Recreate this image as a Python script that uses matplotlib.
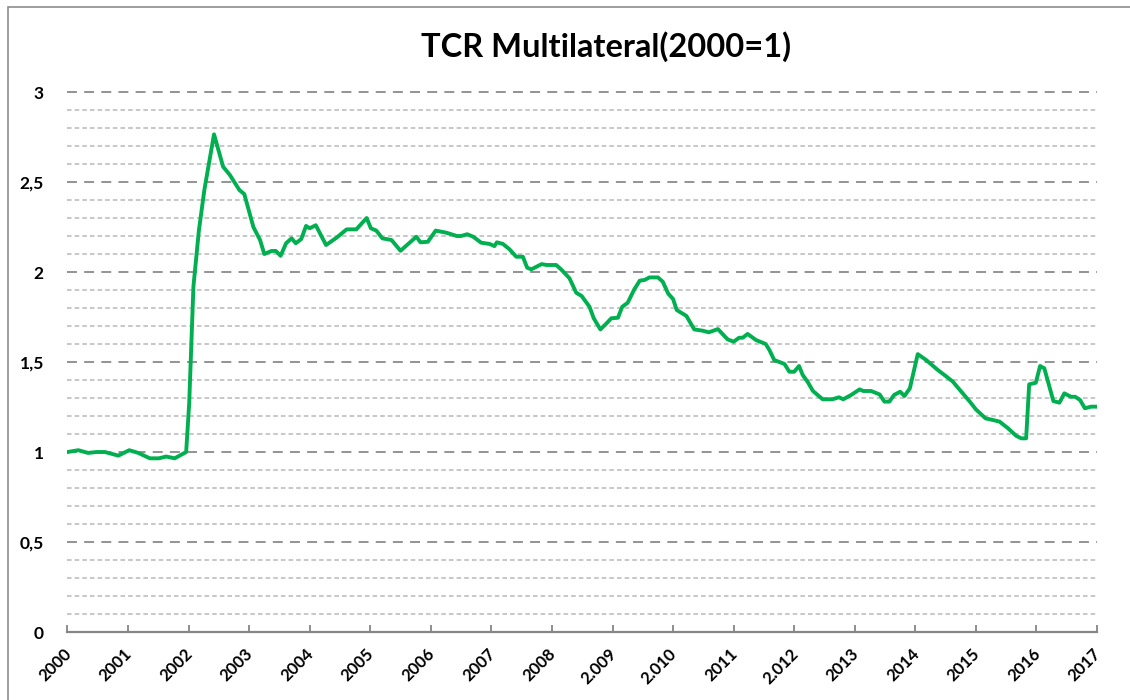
import matplotlib
matplotlib.use('Agg')
import matplotlib.pyplot as plt
import matplotlib.transforms as mtransforms
from matplotlib.patches import Rectangle
from matplotlib.ticker import MultipleLocator, FuncFormatter

# monthly-ish readings of the multilateral real exchange rate (2000=1)
years = [
    2000.00, 2000.18, 2000.34, 2000.48, 2000.62, 2000.84, 2001.02, 2001.17, 2001.36, 2001.51,
    2001.63, 2001.77, 2001.96, 2002.01, 2002.08, 2002.17, 2002.26, 2002.42, 2002.57, 2002.68,
    2002.84, 2002.92, 2003.07, 2003.18, 2003.25, 2003.37, 2003.44, 2003.52, 2003.61, 2003.70,
    2003.77, 2003.86, 2003.94, 2004.00, 2004.10, 2004.27, 2004.44, 2004.61, 2004.77, 2004.94,
    2005.01, 2005.10, 2005.20, 2005.35, 2005.50, 2005.76, 2005.83, 2005.95, 2006.08, 2006.26,
    2006.43, 2006.50, 2006.60, 2006.70, 2006.83, 2006.97, 2007.05, 2007.09, 2007.19, 2007.30,
    2007.41, 2007.52, 2007.59, 2007.66, 2007.83, 2007.91, 2008.07, 2008.15, 2008.29, 2008.40,
    2008.49, 2008.62, 2008.69, 2008.80, 2008.91, 2008.98, 2009.09, 2009.16, 2009.25, 2009.36,
    2009.45, 2009.53, 2009.61, 2009.75, 2009.83, 2009.92, 2010.00, 2010.06, 2010.22, 2010.35,
    2010.49, 2010.59, 2010.74, 2010.90, 2011.00, 2011.09, 2011.15, 2011.23, 2011.37, 2011.53,
    2011.59, 2011.67, 2011.84, 2011.92, 2012.00, 2012.08, 2012.14, 2012.22, 2012.31, 2012.47,
    2012.63, 2012.74, 2012.81, 2012.94, 2013.08, 2013.14, 2013.27, 2013.41, 2013.49, 2013.57,
    2013.65, 2013.75, 2013.82, 2013.91, 2014.04, 2014.18, 2014.37, 2014.48, 2014.62, 2014.76,
    2014.90, 2015.00, 2015.16, 2015.28, 2015.39, 2015.53, 2015.67, 2015.75, 2015.83, 2015.88,
    2015.99, 2016.06, 2016.13, 2016.28, 2016.38, 2016.46, 2016.57, 2016.64, 2016.72, 2016.80,
    2016.90, 2017.00,
]
tcr = [
    1.000, 1.010, 0.995, 1.000, 1.000, 0.980, 1.010, 0.995, 0.965, 0.965,
    0.975, 0.965, 1.000, 1.270, 1.920, 2.230, 2.455, 2.765, 2.585, 2.540,
    2.455, 2.433, 2.250, 2.178, 2.100, 2.117, 2.117, 2.090, 2.160, 2.187,
    2.160, 2.183, 2.256, 2.243, 2.260, 2.150, 2.190, 2.237, 2.237, 2.300,
    2.243, 2.230, 2.187, 2.178, 2.118, 2.196, 2.165, 2.168, 2.230, 2.218,
    2.200, 2.200, 2.210, 2.196, 2.163, 2.156, 2.144, 2.165, 2.156, 2.126,
    2.085, 2.085, 2.024, 2.015, 2.044, 2.039, 2.039, 2.015, 1.965, 1.885,
    1.867, 1.807, 1.743, 1.681, 1.718, 1.743, 1.746, 1.807, 1.829, 1.904,
    1.952, 1.956, 1.970, 1.970, 1.946, 1.880, 1.850, 1.789, 1.756, 1.681,
    1.674, 1.665, 1.683, 1.626, 1.613, 1.635, 1.635, 1.656, 1.622, 1.600,
    1.567, 1.511, 1.489, 1.446, 1.446, 1.478, 1.428, 1.391, 1.339, 1.293,
    1.293, 1.304, 1.293, 1.317, 1.348, 1.339, 1.339, 1.320, 1.280, 1.280,
    1.317, 1.335, 1.311, 1.354, 1.544, 1.511, 1.456, 1.428, 1.391, 1.335,
    1.280, 1.237, 1.187, 1.178, 1.169, 1.132, 1.089, 1.076, 1.076, 1.376,
    1.385, 1.478, 1.465, 1.283, 1.274, 1.326, 1.307, 1.307, 1.289, 1.243,
    1.252, 1.252,
]

tick_years = list(range(2000, 2018))
tick_labels = ['2000', '2001', '2002', '2003', '2004', '2005', '2006', '2007', '2008',
               '2.009', '2.010', '2011', '2.012', '2013', '2014', '2015', '2016', '2017']

plt.rcParams['font.family'] = ['Lato', 'DejaVu Sans']

fig = plt.figure(figsize=(11.3, 7), dpi=100)
ax = fig.add_axes([0.0597, 0.0971, 0.9111, 0.7766])

# chart area border (runs off the right and bottom edges)
fig.patches.append(Rectangle((8 / 1130, -0.05), 1.1, 1 - 7 / 700 + 0.05,
                             transform=fig.transFigure, fill=False,
                             edgecolor='#8c8c8c', linewidth=1.2))

ax.plot(years, tcr, color='#00B050', linewidth=2.8, zorder=3)

ax.set_xlim(2000, 2017)
ax.set_ylim(0, 3.02)

ax.yaxis.set_major_locator(MultipleLocator(0.5))
ax.yaxis.set_minor_locator(MultipleLocator(0.1))
ax.yaxis.set_major_formatter(FuncFormatter(lambda v, p: ('%g' % v).replace('.', ',')))
ax.set_axisbelow(True)
ax.grid(which='major', axis='y', color='#8a8a8a', linewidth=1.3, linestyle=(0, (5.5, 4)))
ax.grid(which='minor', axis='y', color='#b8b8b8', linewidth=1.1, linestyle=(0, (3, 2)))
ax.grid(which='major', axis='x', visible=False)

for s in ['top', 'right', 'left']:
    ax.spines[s].set_visible(False)
ax.spines['bottom'].set_color('#868686')
ax.spines['bottom'].set_linewidth(1.6)
ax.spines['bottom'].set_zorder(4)

ax.tick_params(axis='x', direction='in', length=5, width=1.3, color='#868686', pad=10)
ax.tick_params(axis='y', which='both', length=0, pad=17)

ax.set_xticks(tick_years)
ax.set_xticklabels(tick_labels, rotation=45, ha='right', va='top',
                   fontsize=12, fontweight='bold')
offset = mtransforms.ScaledTranslation(5 / 72, 0, fig.dpi_scale_trans)
for lbl in ax.get_xticklabels():
    lbl.set_transform(lbl.get_transform() + offset)
for lbl in ax.get_yticklabels():
    lbl.set_fontweight('bold')
    lbl.set_fontsize(12.5)

fig.text(0.536, 0.934, 'TCR Multilateral(2000=1)', ha='center', va='center',
         fontsize=23.5, fontweight='bold')

fig.savefig('out.png', dpi=100)
